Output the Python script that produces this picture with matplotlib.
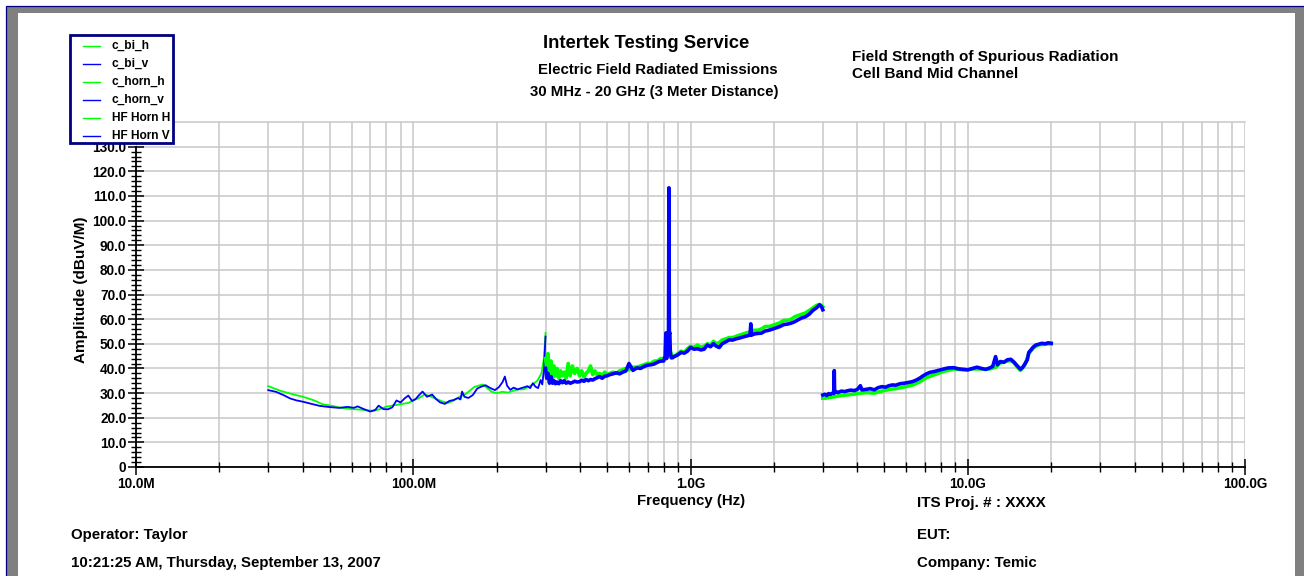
import numpy as np
import matplotlib
matplotlib.use("Agg")
import matplotlib.pyplot as plt
from matplotlib.patches import Rectangle
from matplotlib.lines import Line2D
from matplotlib.ticker import LogLocator, FixedLocator, FuncFormatter, NullFormatter

plt.rcParams['font.family'] = ['Liberation Sans', 'DejaVu Sans']
plt.rcParams['font.weight'] = 'bold'

# --- biconical antenna, 30 - 300 MHz ---
bi_h_mhz = [30, 33, 36, 40, 44, 47, 51, 55, 60, 64, 68, 72, 76, 80, 85, 90, 96, 100,
            105, 110, 116, 122, 128, 134, 140, 147, 154, 160, 166, 172, 178, 185, 192,
            200, 210, 220, 230, 240, 250, 260, 270, 280, 290, 296, 300]
bi_h_db = [32.8, 31.0, 29.8, 28.5, 27.0, 25.5, 24.8, 24.0, 23.5, 23.3, 23.0, 22.8, 23.5,
           24.5, 25.0, 25.5, 26.0, 27.0, 28.0, 29.5, 28.5, 27.5, 26.5, 26.0, 27.0, 28.5,
           29.5, 31.0, 32.5, 33.0, 33.5, 32.0, 30.5, 30.0, 30.5, 30.2, 31.0, 31.5, 31.5,
           32.5, 33.5, 35.0, 38.0, 44.0, 54.4]

bi_v_mhz = [30, 32, 34, 36, 38, 40, 43, 46, 50, 54, 58, 61, 63, 66, 70, 73, 75, 78, 81,
            84, 87, 90, 93, 96, 99, 102, 105, 108, 112, 117, 121, 125, 130, 135, 140, 145,
            148, 150, 153, 158, 164, 170, 175, 182, 190, 197, 204, 210, 214, 218, 224,
            230, 238, 245, 252, 258, 264, 270, 276, 282, 288, 292, 296, 300]
bi_v_db = [31.2, 30.5, 29.2, 27.8, 27.0, 26.5, 25.6, 24.8, 24.3, 24.0, 24.4, 24.0, 24.6,
           23.6, 22.5, 23.2, 24.9, 23.5, 23.4, 24.2, 27.0, 26.2, 27.8, 29.0, 26.8, 27.6,
           29.2, 30.6, 28.5, 29.4, 27.5, 26.2, 25.6, 26.8, 27.2, 28.0, 27.4, 30.6, 28.5,
           28.0, 29.2, 31.8, 32.5, 33.2, 32.0, 31.2, 32.5, 34.5, 36.7, 33.0, 31.3, 32.2,
           31.5, 32.0, 32.4, 32.8, 32.0, 34.0, 32.6, 32.0, 35.3, 33.5, 39.4, 52.9]

# --- horn, 300 MHz - 3 GHz ---
horn_h_mhz = [300, 303, 306, 310, 314, 318, 322, 326, 330, 335,
              340, 345, 350, 356, 362, 368, 375, 382, 390, 398,
              405, 413, 420, 428, 436, 444, 452, 460, 470, 480,
              490, 500, 512, 525, 540, 555, 570, 585, 600, 620,
              640, 660, 680, 700, 720, 740, 760, 780, 800, 815,
              830, 845, 860, 880, 900, 925, 950, 975, 1000, 1030,
              1060, 1090, 1120, 1150, 1180, 1210, 1240, 1270, 1300, 1340,
              1380, 1420, 1460, 1500, 1550, 1600, 1650, 1700, 1750, 1800,
              1860, 1920, 1980, 2040, 2100, 2170, 2240, 2310, 2380, 2450,
              2520, 2600, 2680, 2760, 2840, 2920, 2970, 3000]
horn_h_db = [44.0, 40.0, 46.0, 38.0, 43.0, 36.0, 41.0, 37.0, 40.0, 36.0,
             39.0, 37.0, 38.5, 36.0, 42.0, 37.0, 41.0, 38.0, 40.0, 37.0,
             39.0, 36.5, 38.0, 39.0, 41.0, 37.5, 39.0, 37.5, 38.0, 37.0,
             38.5, 37.5, 38.0, 38.5, 38.0, 39.0, 39.5, 40.0, 39.5, 40.5,
             40.5, 41.0, 41.5, 42.0, 42.0, 43.0, 43.0, 44.0, 44.0, 44.5,
             46.0, 47.0, 45.0, 45.0, 46.0, 47.0, 46.5, 48.0, 49.0, 48.5,
             49.5, 48.5, 49.0, 50.0, 49.5, 51.0, 50.0, 50.5, 51.5, 52.0,
             52.5, 52.5, 53.0, 53.5, 54.0, 54.5, 55.0, 55.5, 55.5, 56.0,
             57.0, 57.0, 57.5, 58.0, 58.5, 59.5, 59.5, 60.0, 61.0, 61.5,
             62.0, 62.5, 63.5, 64.5, 65.5, 66.0, 65.5, 65.0]

horn_v_mhz = [300, 303, 306, 310, 314, 318, 322, 326, 330, 335, 340, 345, 350, 356, 362,
              368, 375, 382, 390, 398, 405, 413, 420, 428, 436, 444, 452, 460, 470, 480,
              490, 500, 512, 525, 540, 555, 570, 585, 600, 620, 640, 660, 680, 700, 720,
              740, 760, 780, 800, 810, 815, 820, 826, 833, 836, 839, 842, 846, 852, 860,
              880, 900, 925, 950, 975, 1000, 1030, 1060, 1090, 1120, 1150, 1180, 1210,
              1240, 1270, 1300, 1340, 1380, 1420, 1460, 1500, 1550, 1600, 1640, 1650,
              1660, 1700, 1750, 1800, 1860, 1920, 1980, 2040, 2100, 2170, 2240, 2310,
              2380, 2450, 2520, 2600, 2680, 2760, 2840, 2920, 2970, 3000]
horn_v_db = [40.0, 36.0, 38.0, 34.0, 36.7, 34.0, 35.0, 33.8, 34.5, 33.8, 35.0, 34.2, 35.0,
             34.0, 34.5, 34.0, 34.3, 34.8, 34.5, 34.6, 35.2, 34.8, 35.5, 35.0, 35.5, 35.3,
             35.8, 36.2, 36.7, 36.0, 36.8, 37.0, 37.5, 37.8, 38.2, 37.8, 38.5, 39.0, 42.0,
             39.2, 40.2, 40.0, 40.8, 41.3, 41.5, 41.8, 42.5, 43.0, 43.0, 45.0, 54.4, 44.0,
             48.0, 54.0, 113.3, 54.0, 54.5, 46.0, 44.3, 44.3, 45.0, 45.5, 46.5, 46.2, 47.0,
             48.5, 47.8, 48.0, 47.5, 47.8, 49.5, 48.8, 50.0, 49.0, 48.5, 50.0, 50.8, 51.6,
             51.5, 52.0, 52.3, 52.8, 53.2, 53.5, 58.1, 53.5, 54.0, 54.2, 54.3, 55.2, 55.5,
             56.0, 56.5, 57.0, 57.8, 58.0, 58.4, 59.0, 59.8, 60.5, 61.0, 62.0, 63.5, 64.5,
             65.8, 65.0, 63.8]

# --- HF horn, 3 - 20 GHz ---
hf_h_mhz = [3000, 3100, 3200, 3300, 3400, 3500, 3700, 3900, 4100, 4300, 4600, 4900, 5200,
            5500, 5900, 6300, 6700, 7100, 7600, 8200, 8900, 9700, 10400, 11200, 12000,
            12600, 13100, 13900, 14300, 14700, 15100, 15500, 16100, 16600, 17200, 18000,
            19000, 20000]
hf_h_db = [27.9, 28.0, 28.3, 28.5, 28.8, 29.0, 29.3, 29.6, 30.0, 30.2, 30.0, 30.8, 31.5,
           31.8, 32.5, 33.2, 34.5, 36.3, 37.5, 38.8, 39.8, 39.4, 39.8, 39.8, 39.8, 40.5,
           42.2, 43.0, 43.2, 42.2, 40.5, 39.2, 41.5, 46.0, 48.2, 49.6, 49.8, 50.0]

hf_v_mhz = [3000, 3050, 3100, 3150, 3200, 3250, 3290, 3300, 3310, 3350, 3400, 3500, 3600,
            3700, 3800, 3900, 4000, 4100, 4150, 4300, 4450, 4600, 4750, 4900, 5050, 5200,
            5350, 5500, 5700, 5900, 6100, 6300, 6500, 6700, 6900, 7100, 7300, 7600, 7900,
            8200, 8500, 8900, 9300, 9700, 10000, 10400, 10800, 11200, 11600, 12000, 12300,
            12600, 12800, 13100, 13500, 13900, 14300, 14700, 15100, 15500, 15800, 16100,
            16400, 16600, 16900, 17200, 17600, 18000, 18500, 19000, 19500, 20000]
hf_v_db = [29.2, 29.5, 29.0, 29.8, 29.5, 30.0, 29.8, 39.1, 30.2, 30.6, 30.2, 30.8, 30.6,
           31.0, 31.2, 31.0, 31.5, 33.0, 31.3, 31.5, 31.8, 31.3, 32.2, 32.6, 32.4, 33.0,
           33.3, 33.2, 33.8, 34.0, 34.3, 34.6, 35.2, 36.0, 37.0, 37.8, 38.4, 38.8, 39.3,
           39.8, 40.2, 40.3, 39.8, 39.6, 39.4, 40.0, 40.5, 40.0, 39.6, 40.2, 40.8, 44.8,
           41.5, 42.8, 42.5, 43.5, 43.7, 42.5, 41.0, 39.7, 40.5, 42.0, 43.5, 46.5, 47.5,
           48.6, 49.5, 49.8, 50.2, 50.0, 50.4, 50.2]

series = [
    ("c_bi_h", bi_h_mhz, bi_h_db, "#00ff00", 1.3),
    ("c_bi_v", bi_v_mhz, bi_v_db, "#0000ff", 1.3),
    ("c_horn_h", horn_h_mhz, horn_h_db, "#00ff00", 2.6),
    ("c_horn_v", horn_v_mhz, horn_v_db, "#0000ff", 2.6),
    ("HF Horn H", hf_h_mhz, hf_h_db, "#00ff00", 2.6),
    ("HF Horn V", hf_v_mhz, hf_v_db, "#0000ff", 2.6),
]

fig = plt.figure(figsize=(13.04, 5.76), dpi=100)
W, H = 1304.0, 576.0
ax = fig.add_axes([136 / W, 1 - 467 / H, (1245 - 136) / W, (467 - 122) / H])

grid_c = "#c8c8c8"
for name, f, a, c, lw in series:
    ax.plot(np.array(f) * 1e6, a, color=c, lw=lw, label=name, zorder=3)

ax.set_xscale("log")
ax.set_xlim(1e7, 1e11)
ax.set_ylim(0, 140)

def freq_label(v, pos):
    if v >= 1e9:
        return "%.1fG" % (v / 1e9)
    return "%.1fM" % (v / 1e6)

ax.xaxis.set_major_locator(LogLocator(base=10, numticks=20))
ax.xaxis.set_minor_locator(LogLocator(base=10, subs=np.arange(2, 10), numticks=20))
ax.xaxis.set_major_formatter(FuncFormatter(freq_label))
ax.xaxis.set_minor_formatter(NullFormatter())

ax.yaxis.set_major_locator(FixedLocator(np.arange(0, 131, 10)))
ax.yaxis.set_minor_locator(FixedLocator(np.arange(0, 131, 2)))
ax.yaxis.set_major_formatter(FuncFormatter(lambda v, p: "0" if v == 0 else "%.1f" % v))

ax.grid(True, which="both", axis="x", color=grid_c, lw=1.1, zorder=0)
ax.grid(True, which="major", axis="y", color=grid_c, lw=1.1, zorder=0)
ax.axhline(140, color=grid_c, lw=1.1, clip_on=False, zorder=0)
ax.set_axisbelow(True)

for s in ("top", "right"):
    ax.spines[s].set_visible(False)
ax.spines["left"].set_bounds(0, 130)
ax.spines["left"].set_linewidth(1.3)
ax.spines["bottom"].set_linewidth(1.3)

ax.tick_params(axis="both", which="major", direction="inout", length=12, width=1.1,
               labelsize=9.8, pad=1, color="black")
ax.tick_params(axis="both", which="minor", direction="inout", length=7, width=1.0)
for t in ax.get_xticklabels() + ax.get_yticklabels():
    t.set_fontweight("bold")

ax.set_xlabel("Frequency (Hz)", fontsize=10.8, fontweight="bold")
ax.xaxis.set_label_coords((691 - 136) / 1109, (467 - 494) / 345)
ax.set_ylabel("Amplitude (dBuV/M)", fontsize=11, fontweight="bold")
ax.yaxis.set_label_coords((88 - 136) / 1109, (467 - 290) / 345)

# legend panel, drawn by hand so it sits over the top-left corner of the grid
def px_rect(x0, y0, x1, y1, **kw):
    fig.add_artist(Rectangle((x0 / W, 1 - y1 / H), (x1 - x0) / W, (y1 - y0) / H,
                             transform=fig.transFigure, **kw))

px_rect(70, 35, 173, 143, facecolor="white", edgecolor="none", zorder=10)
for i, (name, _, _, c, _) in enumerate(series):
    yy = 1 - (46 + 18 * i) / H
    fig.add_artist(Line2D([83 / W, 100 / W], [yy, yy], color=c, lw=1.0,
                          transform=fig.transFigure, zorder=11))
    fig.text(112 / W, yy, name, ha="left", va="center", fontsize=8.6,
             fontweight="bold", zorder=11)
px_rect(70, 35, 173, 143, facecolor="none", edgecolor="#000080", lw=2.0, zorder=12)

# header
fig.text(646 / W, 1 - 43 / H, "Intertek Testing Service", ha="center", va="center",
         fontsize=13.2, fontweight="bold")
fig.text(658 / W, 1 - 70 / H, "Electric Field Radiated Emissions", ha="center",
         va="center", fontsize=10.8, fontweight="bold")
fig.text(654 / W, 1 - 92 / H, "30 MHz - 20 GHz (3 Meter Distance)", ha="center",
         va="center", fontsize=10.8, fontweight="bold")
fig.text(852 / W, 1 - 57 / H, "Field Strength of Spurious Radiation", ha="left",
         va="center", fontsize=11, fontweight="bold")
fig.text(852 / W, 1 - 74 / H, "Cell Band Mid Channel", ha="left", va="center",
         fontsize=11, fontweight="bold")

# footer
fig.text(917 / W, 1 - 503 / H, "ITS Proj. # : XXXX", ha="left", va="center",
         fontsize=11, fontweight="bold")
fig.text(71 / W, 1 - 535 / H, "Operator: Taylor", ha="left", va="center",
         fontsize=10.8, fontweight="bold")
fig.text(917 / W, 1 - 535 / H, "EUT:", ha="left", va="center", fontsize=10.8,
         fontweight="bold")
fig.text(71 / W, 1 - 563 / H, "10:21:25 AM, Thursday, September 13, 2007", ha="left",
         va="center", fontsize=10.8, fontweight="bold")
fig.text(917 / W, 1 - 563 / H, "Company: Temic", ha="left", va="center", fontsize=10.8,
         fontweight="bold")

# page frame: grey bevel on left, top and right, thin navy outline
px_rect(7, 7, 18, 576, facecolor="#808080", edgecolor="none")
px_rect(7, 7, 1304, 13, facecolor="#808080", edgecolor="none")
px_rect(1295, 7, 1304, 576, facecolor="#808080", edgecolor="none")
px_rect(6, 6, 1310, 590, facecolor="none", edgecolor="#000080", lw=0.9)

fig.savefig("out.png", dpi=100)
